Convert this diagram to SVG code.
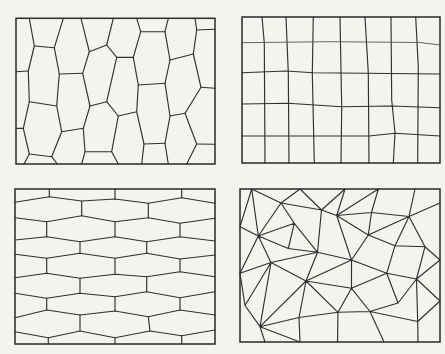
<svg xmlns="http://www.w3.org/2000/svg" width="445" height="354" viewBox="0 0 445 354">
<style>
.bg{fill:#f4f3f0}
.frame{fill:none;stroke:#2a2a2a;stroke-width:1.5}
.ln{fill:none;stroke:#303030;stroke-width:1.15;stroke-linejoin:round;stroke-linecap:round}
.lt{fill:none;stroke:#555;stroke-width:0.9;stroke-linejoin:round}
</style>
<rect class="bg" x="0" y="0" width="445" height="354"/>

<g id="panel-irregular">
<rect class="frame" x="16" y="18.3" width="199" height="145.7"/>
<g class="ln">
<polyline points="29.3,18.3 34.3,46 28.3,71 29.3,101.7 23.3,128.3 29.3,154 24,164"/>
<polyline points="63.3,18.3 54.3,47.7 59.3,74 56.7,106 61.7,131.7 51.7,156.7 57.3,164"/>
<polyline points="81,18.3 89.3,51.7 82.7,73.3 90,106 83.3,128.3 85,151.7 81.7,164"/>
<polyline points="113.3,18.3 106.7,45 116.7,57.3 106.7,101.7 118.3,116 111.7,151.7 118.3,164"/>
<polyline points="136.7,18.3 140.7,31.7 133.3,57.3 138.3,85 136.7,111.7 144,144 141.7,164"/>
<polyline points="168.3,18.3 165,31.7 170,60 165,83.3 170,116 165,143.3 168.3,164"/>
<polyline points="195,18.3 196.7,30 193.3,54 201,87.3 185,113.3 196.7,144 186.7,164"/>
<path d="M16,71.7 L28.3,71 M16,128.3 L23.3,128.3
M34.3,46 L54.3,47.7 M29.3,101.7 L56.7,106 M29.3,154 L51.7,156.7
M59.3,74 L82.7,73.3 M61.7,131.7 L83.3,128.3
M89.3,51.7 L106.7,45 M90,106 L106.7,101.7 M85,151.7 L111.7,151.7
M116.7,57.3 L133.3,57.3 M118.3,116 L136.7,111.7
M140.7,31.7 L165,31.7 M138.3,85 L165,83.3 M144,144 L165,143.3
M170,60 L193.3,54 M170,116 L185,113.3
M196.7,30 L215,29.3 M201,87.3 L215,88.3 M196.7,144 L215,144.3"/>
</g>
</g>

<g id="panel-grid">
<rect class="frame" x="242" y="17" width="198" height="146"/>
<g class="ln">
<polyline points="262,17 264.3,43 265,163"/>
<polyline points="286,17 288.3,73 289,163"/>
<polyline points="313.3,17 312.3,73 314.3,163"/>
<polyline points="340,17 341.7,106.7 341,163"/>
<polyline points="365,17 368.3,73 369,163"/>
<polyline points="391,17 391.7,100 395,133 393.3,163"/>
<polyline points="415.7,17 418.3,67 417.7,163"/>
<polyline points="242,72.7 286,71 313,72.7 440,74"/>
<polyline points="242,104 288,103.3 341.7,106.7 391.7,106 440,107.7"/>
<polyline points="242,136 369,136 395,133.3 440,136"/>
</g>
<polyline class="lt" points="242,42.7 330,41.7 420,42.5 440,45"/>
</g>

<g id="panel-hexagons">
<rect class="frame" x="15" y="189" width="200" height="155"/>
<g class="ln">
<polyline points="15,202.3 49.3,196.7 81.7,201 115,199 148.3,203.3 181.7,197.7 215,203.3"/>
<polyline points="15,217.7 46.7,221.7 81.7,215.7 115,221.7 148.3,217.7 180,223.3 215,218.3"/>
<polyline points="15,240 46.7,236.7 80,241.7 115,236.7 146.7,241.7 180,236.7 215,241"/>
<polyline points="15,254.3 46.7,258.3 80,253.3 115,258.3 146.7,253.3 180,259 215,255"/>
<polyline points="15,277.7 46.7,273.3 80,278.3 115,274.3 146.7,276.7 180,271.7 215,276.7"/>
<polyline points="15,293.3 46.7,298.3 80,293.3 115,296.7 146.7,291.7 180,297.7 215,291.7"/>
<polyline points="15,317.7 46.7,310 80,315 115,311 148.3,316.7 180,310 215,315"/>
<polyline points="15,331.7 48.3,337.7 80,331 115,337.7 150,331 181.7,335.7 215,330"/>
<path d="M49.3,189 V196.7 M115,189 V199 M181.7,189 V197.7
M81.7,201 V215.7 M148.3,203.3 V217.7
M46.7,221.7 V236.7 M115,221.7 V236.7 M180,223.3 V236.7
M80,241.7 V253.3 M146.7,241.7 V253.3
M46.7,258.3 V273.3 M115,258.3 V274.3 M180,259 V271.7
M80,278.3 V293.3 M146.7,276.7 V291.7
M46.7,298.3 V310 M115,296.7 V311 M180,297.7 V310
M80,315 V331 M148.3,316.7 L150,331
M48.3,337.7 V344 M115,337.7 V344 M181.7,335.7 V344"/>
</g>
</g>

<g id="panel-triangles">
<rect class="frame" x="240" y="189" width="200" height="153"/>
<path class="ln" d="
M251.7,189 L240,226.7 M251.7,189 L258.3,236 M251.7,189 L281,203
M300,189 L281,203 M300,189 L321.5,210
M345,189 L321.5,210 M345,189 L336.7,215.5
M378.3,189 L336.7,215.5 M378.3,189 L371.5,212.5
M415,189 L409,216.5 M409,216.5 L440,203
M281,203 L321.5,210 M281,203 L258.3,236 M281,203 L294.3,223.3
M321.5,210 L336.7,215.5 M321.5,210 L317.5,252.3
M336.7,215.5 L371.5,212.5 L409,216.5 M371.5,212.5 L368.3,235
M336.7,215.5 L368.3,235 M336.7,215.5 L351.5,260
M240,226.7 L258.3,236 M258.3,236 L294.3,223.3 M258.3,236 L288.3,248.5 M258.3,236 L271,262.5 M258.3,236 L240,273.3
M294.3,223.3 L288.3,248.5 M294.3,223.3 L317.5,252.3 M288.3,248.5 L317.5,252.3
M271,262.5 L317.5,252.3 M317.5,252.3 L351.5,260 M317.5,252.3 L306,281
M271,262.5 L306,281 M271,262.5 L240,273.3 M271,262.5 L245,305.5 M271,262.5 L260,326.7
M306,281 L351.5,260 M306,281 L351.5,288.3 M306,281 L299,317.5 M306,281 L260,326.7 M306,281 L338,312.3
M351.5,260 L368.3,235 M351.5,260 L386.7,273.3 M351.5,260 L351.5,288.3
M368.3,235 L395,245.7 M368.3,235 L409,216.5
M395,245.7 L425,246.7 M395,245.7 L409,216.5 M395,245.7 L386.7,273.3
M425,246.7 L409,216.5 M425,246.7 L440,260 M425,246.7 L416.5,279
M386.7,273.3 L416.5,279 M386.7,273.3 L351.5,288.3 M386.7,273.3 L398,303
M416.5,279 L440,260 M416.5,279 L440,301 M416.5,279 L398,303 M416.5,279 L417.7,321.5
M351.5,288.3 L338,312.3 M351.5,288.3 L370,311.5
M398,303 L370,311.5 M370,311.5 L417.7,321.5 M417.7,321.5 L440,301 M417.7,321.5 L418,342
M370,311.5 L384,342 M338,312.3 L370,311.5 M299,317.5 L338,312.3 M260,326.7 L299,317.5
M338,312.3 L337.5,342 M299,317.5 L300,342 M260,326.7 L300,342 M260,326.7 L265,342
M260,326.7 L245,305.5 M245,305.5 L240,273.3"/>
</g>
</svg>
